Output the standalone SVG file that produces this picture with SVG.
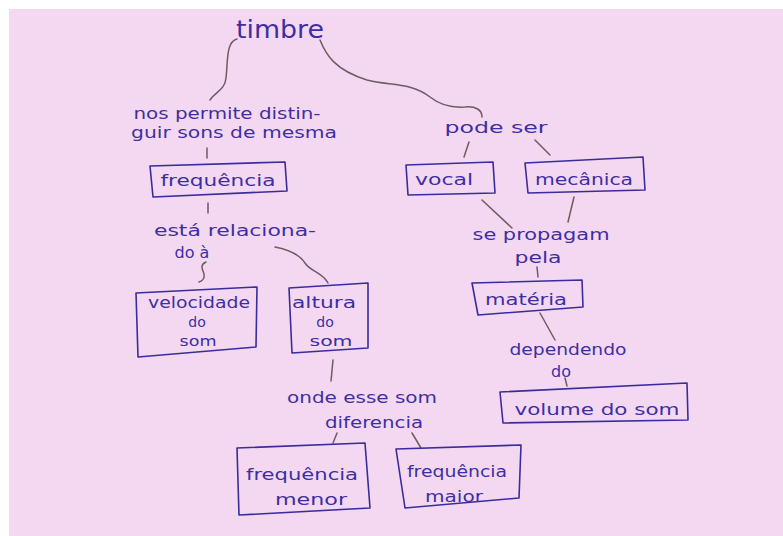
<svg xmlns="http://www.w3.org/2000/svg" width="783" height="536" viewBox="0 0 783 536">
<style>
.bg{fill:#f4d8f1}
.box{fill:none;stroke:#3a2c9c;stroke-width:1.6;stroke-linejoin:round}
.t{font-family:"DejaVu Sans",sans-serif;font-size:16px;fill:#3d2fa3;text-anchor:middle}
.s{font-size:14px}
.big{font-size:24px}
.c{fill:none;stroke:#6d5c62;stroke-width:1.5;stroke-linecap:round}
</style>
<rect width="783" height="536" fill="#ffffff"/>
<rect class="bg" x="9" y="9" width="774" height="527"/>

<g id="connectors">
<path class="c" d="M237,39 C226,42 228,60 226,78 C225,90 215,92 210,100"/>
<path class="c" d="M320,40 C326,55 335,70 367,80 C390,86 410,82 430,97 C440,105 450,108 465,107 C476,106 482,110 482,117"/>
<path class="c" d="M207,148 L207,158"/>
<path class="c" d="M208,203 L208,213"/>
<path class="c" d="M206,262 C199,265 203,270 204,274 C205,279 202,281 199,282"/>
<path class="c" d="M275,247 C290,250 300,255 305,263 C311,272 322,272 328,283"/>
<path class="c" d="M333,360 L331,381"/>
<path class="c" d="M337,433 L333,443"/>
<path class="c" d="M412,433 L421,448"/>
<path class="c" d="M469,142 L464,157"/>
<path class="c" d="M535,140 L550,155"/>
<path class="c" d="M482,200 L512,228"/>
<path class="c" d="M574,197 L568,222"/>
<path class="c" d="M537,267 L538,277"/>
<path class="c" d="M540,313 L555,340"/>
<path class="c" d="M565,378 L567,386"/>
</g>

<g id="timbre"><text class="t big" x="280" y="38" textLength="88" lengthAdjust="spacingAndGlyphs">timbre</text></g>

<g id="label-nos-permite">
<text class="t" x="227" y="119" textLength="187" lengthAdjust="spacingAndGlyphs">nos permite distin-</text>
<text class="t" x="234" y="138" textLength="206" lengthAdjust="spacingAndGlyphs">guir sons de mesma</text>
</g>

<g id="frequencia">
<polygon class="box" points="150,166 285,162 287,191 153,197"/>
<text class="t" x="218" y="186" textLength="115" lengthAdjust="spacingAndGlyphs">frequência</text>
</g>

<g id="label-esta-relacionado">
<text class="t" x="235" y="236" textLength="162" lengthAdjust="spacingAndGlyphs">está relaciona-</text>
<text class="t" x="192" y="258">do à</text>
</g>

<g id="velocidade">
<polygon class="box" points="136,293 257,287 256,347 138,357"/>
<text class="t" x="199" y="308" textLength="102" lengthAdjust="spacingAndGlyphs">velocidade</text>
<text class="t s" x="197" y="327">do</text>
<text class="t s" x="198" y="346" textLength="37" lengthAdjust="spacingAndGlyphs">som</text>
</g>

<g id="altura">
<polygon class="box" points="289,288 368,283 368,348 292,353"/>
<text class="t" x="324" y="308" textLength="64" lengthAdjust="spacingAndGlyphs">altura</text>
<text class="t s" x="325" y="327">do</text>
<text class="t s" x="331" y="346" textLength="43" lengthAdjust="spacingAndGlyphs">som</text>
</g>

<g id="label-onde-esse-som">
<text class="t" x="362" y="403" textLength="150" lengthAdjust="spacingAndGlyphs">onde esse som</text>
<text class="t" x="374" y="428" textLength="98" lengthAdjust="spacingAndGlyphs">diferencia</text>
</g>

<g id="frequencia-menor">
<polygon class="box" points="237,448 365,443 370,508 239,515"/>
<text class="t" x="302" y="480" textLength="112" lengthAdjust="spacingAndGlyphs">frequência</text>
<text class="t" x="311" y="505" textLength="72" lengthAdjust="spacingAndGlyphs">menor</text>
</g>

<g id="frequencia-maior">
<polygon class="box" points="396,449 521,445 519,498 405,508"/>
<text class="t" x="457" y="477" textLength="100" lengthAdjust="spacingAndGlyphs">frequência</text>
<text class="t" x="454" y="502" textLength="58" lengthAdjust="spacingAndGlyphs">maior</text>
</g>

<g id="label-pode-ser">
<text class="t" x="496" y="133" textLength="103" lengthAdjust="spacingAndGlyphs">pode ser</text>
</g>

<g id="vocal">
<polygon class="box" points="406,165 493,162 495,193 408,195"/>
<text class="t" x="444" y="185" textLength="58" lengthAdjust="spacingAndGlyphs">vocal</text>
</g>

<g id="mecanica">
<polygon class="box" points="525,163 643,157 645,190 528,193"/>
<text class="t" x="584" y="185" textLength="98" lengthAdjust="spacingAndGlyphs">mecânica</text>
</g>

<g id="label-se-propagam">
<text class="t" x="541" y="240" textLength="137" lengthAdjust="spacingAndGlyphs">se propagam</text>
<text class="t" x="538" y="263" textLength="47" lengthAdjust="spacingAndGlyphs">pela</text>
</g>

<g id="materia">
<polygon class="box" points="472,283 582,280 583,307 478,315"/>
<text class="t" x="526" y="305" textLength="82" lengthAdjust="spacingAndGlyphs">matéria</text>
</g>

<g id="label-dependendo">
<text class="t" x="568" y="355" textLength="117" lengthAdjust="spacingAndGlyphs">dependendo</text>
<text class="t" x="561" y="377">do</text>
</g>

<g id="volume-do-som">
<polygon class="box" points="500,392 687,383 688,420 503,423"/>
<text class="t" x="597" y="415" textLength="165" lengthAdjust="spacingAndGlyphs">volume do som</text>
</g>
</svg>
